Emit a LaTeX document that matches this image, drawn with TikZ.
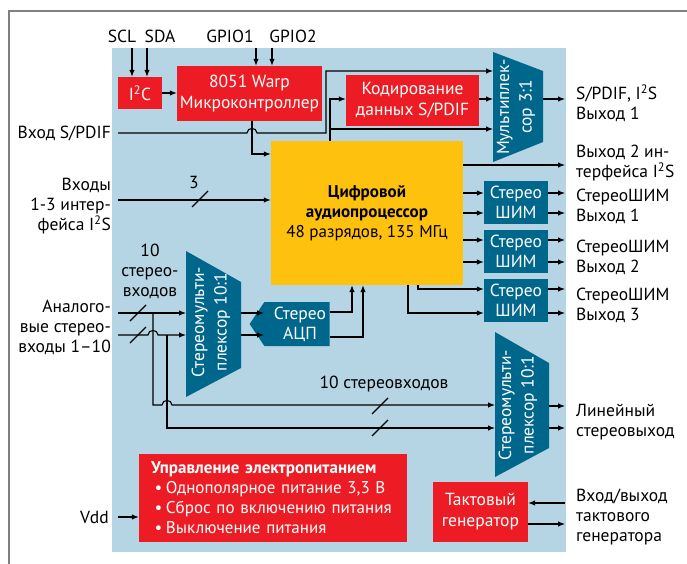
\documentclass[tikz,border=0pt]{standalone}
\usepackage{fontspec}
\setmainfont{PT Sans}
\usetikzlibrary{arrows.meta,shapes.symbols}
\definecolor{bgblue}{HTML}{B5D4E4}
\definecolor{cred}{HTML}{ED1C24}
\definecolor{cyellow}{HTML}{FEC10E}
\definecolor{cteal}{HTML}{00678C}
\definecolor{framegray}{HTML}{808080}
\tikzset{%
  wire/.style     = {line width=1.1pt, black},%
  arr/.style      = {wire, -{Latex[length=7pt,width=5.5pt]}},%
  redbox/.style   = {shape=rectangle, fill=cred, text=white, align=center, inner sep=0pt},%
  tealbox/.style  = {redbox, fill=cteal},%
  muxtxt/.style   = {text=white, align=center, inner sep=0pt, rotate=90,%
                     font=\fontsize{17.5}{22.5}\selectfont},%
  lbl/.style      = {inner sep=0pt, align=left, anchor=west},%
  lblr/.style     = {inner sep=0pt, align=right, anchor=east}%
}
\newcommand{\busmark}[1]{\draw[wire] (#1) ++(-8,8) -- ++(16,-16);}
\newcommand{\isq}{I\textsuperscript{2}S}

\begin{document}
\begin{tikzpicture}[x=1pt,y=-1pt,every node/.style={font=\fontsize{17.5}{20}\selectfont}]
	\useasboundingbox (0,0) rectangle (687,564);
	\draw[framegray, line width=1.3pt] (9,564) -- (9,11) -- (687,11);
	\fill[bgblue] (112,48) rectangle (566,552);
	% blocks
	\node[redbox, minimum width=44pt, minimum height=32pt] (i2c) at (140,93) {I\textsuperscript{2}C};
	\node[redbox, minimum width=145pt, minimum height=55pt, font=\fontsize{17.5}{21}\selectfont] (mcu) at (249.5,93.5) {8051 Warp\\Микроконтроллер};
	\node[redbox, minimum width=133pt, minimum height=51pt, font=\fontsize{17.5}{21}\selectfont] (enc) at (412.5,100.5) {Кодирование\\данных S/PDIF};
	\node[redbox, fill=cyellow, text=black, minimum width=192pt, minimum height=144pt, font=\fontsize{17}{20}\selectfont] (dsp) at (367,213) {\textbf{Цифровой}\\\textbf{аудиопроцессор}\\48 разрядов, 135 МГц};
	\node[tealbox, minimum width=64pt, minimum height=43pt] (pwma) at (516,202.5) {Стерео\\ШИМ};
	\node[tealbox, minimum width=64pt, minimum height=43pt] (pwmb) at (516,251.5) {Стерео\\ШИМ};
	\node[tealbox, minimum width=64pt, minimum height=43pt] (pwmc) at (516,300.5) {Стерео\\ШИМ};
	\node[tealbox, signal, signal to=west, signal pointer angle=112, minimum width=80pt, minimum height=44pt] (adc) at (297,324) {\hspace*{6pt}Стерео\\\hspace*{6pt}АЦП};
	\node[redbox, minimum width=268pt, minimum height=88pt, text width=244pt, align=left, font=\fontsize{17}{20}\selectfont] (pwr) at (273,498) {\textbf{Управление электропитанием}\\\makebox[15pt][c]{•}Однополярное питание 3,3 В\\\makebox[15pt][c]{•}Сброс по включению питания\\\makebox[15pt][c]{•}Выключение питания};
	\node[redbox, minimum width=95pt, minimum height=60pt, font=\fontsize{17.5}{21}\selectfont] (clk) at (480.5,512) {Тактовый\\генератор};
	% multiplexers
	\fill[cteal] (493,52) -- (543,71) -- (543,142) -- (493,162) -- cycle;
	\fill[cteal] (186,251) -- (241,282) -- (241,368) -- (186,397) -- cycle;
	\fill[cteal] (495,332) -- (549,363) -- (549,448) -- (495,477) -- cycle;
	\node[muxtxt] (muxa) at (516,107) {Мультиплек-\\сор 3:1};
	\node[muxtxt] (muxb) at (211,322) {Стереомульти-\\плексор 10:1};
	\node[muxtxt] (muxc) at (518,405) {Стереомульти-\\плексор 10:1};
	% labels
	\node[inner sep=0pt] (lscl) at (122,36) {SCL};
	\node[inner sep=0pt] (lsda) at (160,36) {SDA};
	\node[inner sep=0pt] (lgpa) at (230,36) {GPIO1};
	\node[inner sep=0pt] (lgpb) at (293,36) {GPIO2};
	\node[lblr] (lspdif) at (111,133) {Вход S/PDIF};
	\node[lblr] (li2s) at (111,206) {Входы\\1-3 интер-\\фейса \isq};
	\node[lblr] (lana) at (111,327) {Аналого-\\вые стерео-\\входы 1–10};
	\node[lblr] (lvdd) at (109,517) {Vdd};
	\node[inner sep=0pt] (lthree) at (194,182) {3};
	\node[inner sep=0pt, align=center] (lten) at (150,271) {10\\стерео-\\входов};
	\node[inner sep=0pt] (ltenb) at (384,384) {10 стереовходов};
	\node[lbl] (outa) at (576,103.5) {S/PDIF, \isq\\Выход 1};
	\node[lbl] (outb) at (576,163) {Выход 2 ин-\\терфейса \isq};
	\node[lbl] (outc) at (576,206) {СтереоШИМ\\Выход 1};
	\node[lbl] (outd) at (576,257.5) {СтереоШИМ\\Выход 2};
	\node[lbl] (oute) at (576,305) {СтереоШИМ\\Выход 3};
	\node[lbl] (outf) at (576,422.5) {Линейный\\стереовыход};
	\node[lbl] (outg) at (576,517) {Вход/выход\\тактового\\генератора};
	% control and top part
	\draw[arr] (132,48) -- (132,0 |- i2c.north);
	\draw[arr] (147,48) -- (147,0 |- i2c.north);
	\draw[arr] (256,48) -- (256,0 |- mcu.north);
	\draw[arr] (272,48) -- (272,0 |- mcu.north);
	\draw[arr] (i2c.east) -- (i2c.east -| mcu.west);
	\draw[arr] (252,0 |- mcu.south) |- (dsp.west |- 0,154);
	\draw[arr] ([xshift=7pt]lspdif.east) -- (247,133) .. controls (247,127) and (257,127) .. (257,133) -- (326,133) |- (493,71);
	\draw[arr] (330,0 |- dsp.north) |- (enc.west |- 0,99);
	\draw[arr] (330,129) -- (493,129);
	\draw[arr] (enc.east |- 0,99) -- (493,99);
	\draw[arr] (543,99) -- (565,99);
	% processor outputs
	\draw[arr] (dsp.east |- 0,165) -- (565,165);
	\draw[arr] (dsp.east |- 0,193) -- (pwma.west |- 0,193);
	\draw[arr] (dsp.east |- 0,213) -- (pwma.west |- 0,213);
	\draw[arr] (dsp.east |- 0,240) -- (pwmb.west |- 0,240);
	\draw[arr] (dsp.east |- 0,262) -- (pwmb.west |- 0,262);
	\draw[arr] (418,0 |- dsp.south) |- (pwmc.west |- 0,289);
	\draw[arr] (408,0 |- dsp.south) |- (pwmc.west |- 0,313);
	\foreach \y in {193,213,240,262,289,313}
		\draw[arr] (548,\y) -- (565,\y);
	% inputs
	\draw[arr] ([xshift=7pt]li2s.east |- 0,200) -- (dsp.west |- 0,200);
	\busmark{200,199}
	\draw[arr] (118,313) -- (186,313);
	\draw[arr] (118,335) -- (148,335) .. controls (148,329) and (158,329) .. (158,335) -- (186,335);
	\busmark{138,313}
	\busmark{138,335}
	\draw[arr] (153,313) -- (153,405) -- (162,405) .. controls (162,399) and (172,399) .. (172,405) -- (495,405);
	\draw[arr] (167,335) -- (167,428) -- (495,428);
	\busmark{380,406}
	\busmark{380,428}
	\draw[arr] (241,313) -- (264,313);
	\draw[arr] (241,335) -- (264,335);
	\draw[arr] (adc.east |- 0,312) -| (352,0 |- dsp.south);
	\draw[arr] (adc.east |- 0,337) -| (363,0 |- dsp.south);
	\draw[arr] (549,406) -- (565,406);
	\draw[arr] (549,428) -- (565,428);
	% power and clock
	\draw[arr] ([xshift=9pt]lvdd.east) -- (pwr.west |- lvdd);
	\draw[arr] (565,503) -- (clk.east |- 0,503);
	\draw[arr] (clk.east |- 0,524) -- (565,524);
\end{tikzpicture}
\end{document}
